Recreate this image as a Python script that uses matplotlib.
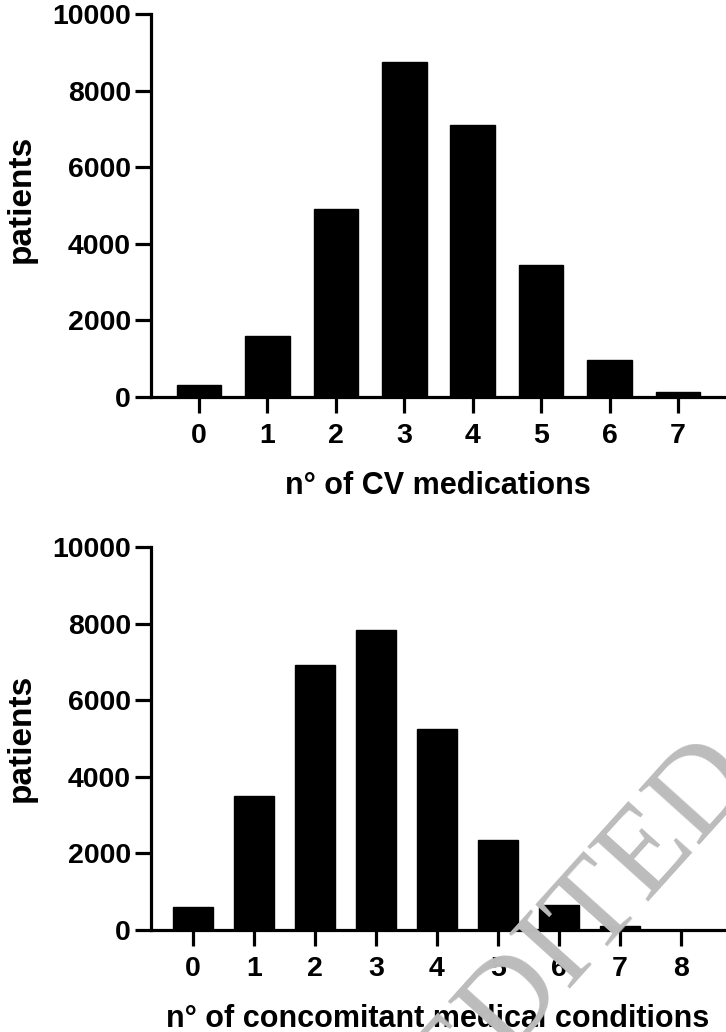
import matplotlib
matplotlib.use('Agg')
import matplotlib.pyplot as plt

# data
cv_meds = [0, 1, 2, 3, 4, 5, 6, 7]
cv_patients = [305, 1580, 4920, 8750, 7090, 3440, 970, 140]

conditions = [0, 1, 2, 3, 4, 5, 6, 7, 8]
cond_patients = [610, 3500, 6910, 7820, 5250, 2350, 640, 95, 10]

y_ticks = [0, 2000, 4000, 6000, 8000, 10000]

plt.rcParams['font.family'] = ['Liberation Sans', 'DejaVu Sans']
plt.rcParams['font.weight'] = 'bold'

W, H = 726, 1032
fig = plt.figure(figsize=(W / 100, H / 100), dpi=100)


def style(ax, xlim, ticks):
    ax.set_xlim(*xlim)
    ax.set_ylim(0, 10000)
    ax.set_xticks(ticks)
    ax.set_yticks(y_ticks)
    ax.spines['top'].set_visible(False)
    ax.spines['right'].set_visible(False)
    for s in ['left', 'bottom']:
        ax.spines[s].set_linewidth(2.3)
    ax.tick_params(width=2.3, length=11.5, labelsize=20.5)
    ax.tick_params(axis='x', pad=7)
    ax.tick_params(axis='y', pad=3)
    for lab in ax.get_xticklabels() + ax.get_yticklabels():
        lab.set_fontweight('bold')


# top panel
ax1 = fig.add_axes([151 / W, 1 - 397 / H, (W - 151) / W, (397 - 14) / H])
ax1.bar(cv_meds, cv_patients, width=0.65, color='black', edgecolor='black')
style(ax1, (-0.7, 7.7), cv_meds)
fig.text(438 / W, 1 - 486 / H, 'n° of CV medications', ha='center', va='center',
         fontsize=22, fontweight='bold')
fig.text(21 / W, 1 - 199 / H, 'patients', ha='center', va='center',
         rotation=90, fontsize=24, fontweight='bold')

# bottom panel
ax2 = fig.add_axes([151 / W, 1 - 930 / H, (W - 151) / W, (930 - 547) / H])
ax2.bar(conditions, cond_patients, width=0.66, color='black', edgecolor='black')
style(ax2, (-0.69, 8.74), conditions)
fig.text(438 / W, 1 - 1019 / H, 'n° of concomitant medical conditions', ha='center',
         va='center', fontsize=22, fontweight='bold')
fig.text(21 / W, 1 - 738 / H, 'patients', ha='center', va='center',
         rotation=90, fontsize=24, fontweight='bold')

# watermark
fig.text(735 / W, 1 - 758 / H, 'UNEDITED', ha='right', va='center',
         rotation=48, rotation_mode='anchor', fontsize=90, fontweight='normal',
         family=['Liberation Serif', 'DejaVu Serif'], color='#bcbcbc')

fig.savefig('out.png', dpi=100)
